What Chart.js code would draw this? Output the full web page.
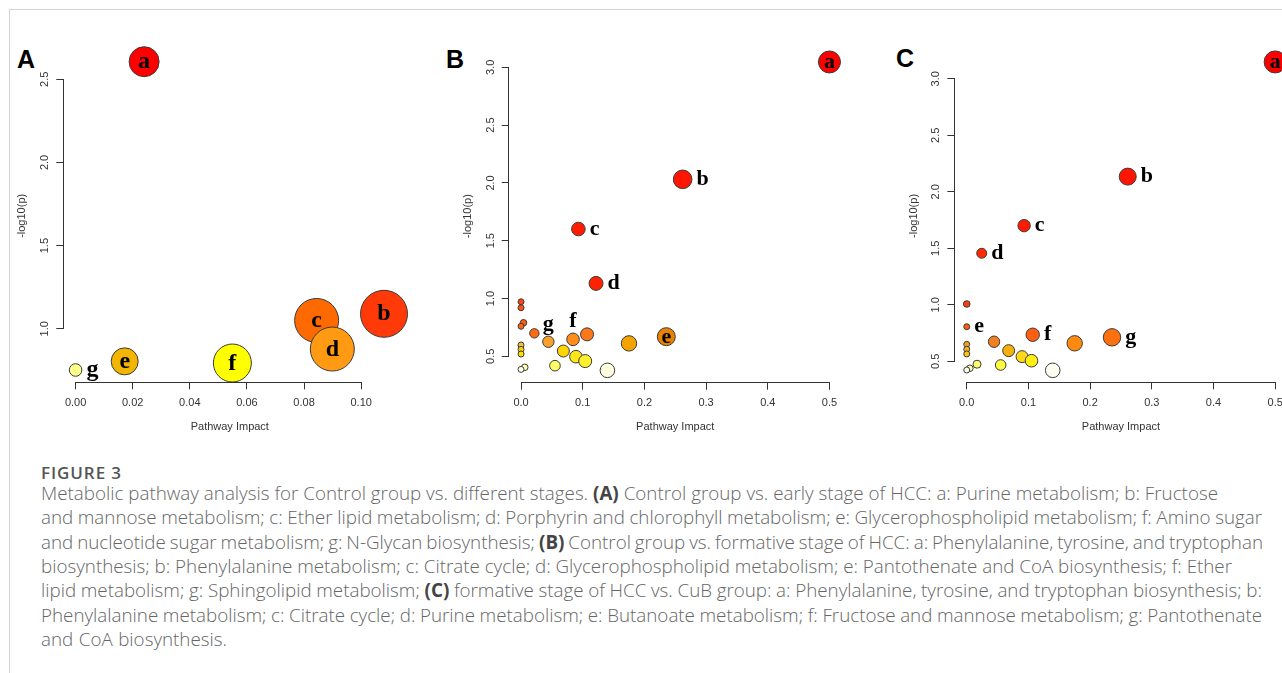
<!DOCTYPE html>
<html><head><meta charset="utf-8">
<script src="https://cdn.jsdelivr.net/npm/chart.js@4.4.0/dist/chart.umd.min.js"></script>
<style>
html,body{margin:0;padding:0;background:#fff;width:1282px;height:673px;overflow:hidden;position:relative}
.frame-top{position:absolute;left:9px;top:9px;width:1273px;height:1px;background:#d4d4d4}
.frame-left{position:absolute;left:9px;top:9px;width:1px;height:664px;background:#d4d4d4}
canvas{position:absolute;top:40px}
.plabel{position:absolute;font:bold 25px "Liberation Sans",Arial,sans-serif;line-height:25px;color:#000}
.cap{position:absolute;left:41px;white-space:nowrap;font-family:"Open Sans",sans-serif;font-weight:300;color:#666;line-height:24px}
.cap b{color:#444;font-weight:700}
#fig{font-weight:600;color:#555;font-size:17px;line-height:20px}
</style></head>
<body>
<div class="frame-top"></div><div class="frame-left"></div>
<div class="plabel" style="left:17px;top:47px">A</div>
<div class="plabel" style="left:446px;top:47px">B</div>
<div class="plabel" style="left:896px;top:46px">C</div>
<canvas id="cA" width="440" height="400" style="left:0px"></canvas>
<canvas id="cB" width="440" height="400" style="left:446px"></canvas>
<canvas id="cC" width="400" height="400" style="left:892px"></canvas>
<div class="cap" id="fig" style="top:463px">FIGURE 3</div>
<div id="capbox"></div>
<script>
// ---------- Panel A data ----------
const impactA = [0.024, 0.108, 0.0844, 0.0899, 0.0172, 0.0549, 0.0];
const logpA   = [2.606, 1.09, 1.05, 0.878, 0.804, 0.794, 0.752];
const sizeA   = [15, 23.5, 22, 22, 13.5, 19, 6.3];
const lettersA = ['a','b','c','d','e','f','g'];
const xTicksA = [0, 0.02, 0.04, 0.06, 0.08, 0.10];
const xTickLabelsA = ['0.00','0.02','0.04','0.06','0.08','0.10'];
const yTicksA = [1.0, 1.5, 2.0, 2.5];
const yTickLabelsA = ['1.0','1.5','2.0','2.5'];

// ---------- Panel B data ----------
const impactB = [0.5, 0.262, 0.093, 0.1216, 0.2355, 0.0843, 0.0443, 0.107, 0.0216, 0, 0, 0.004, 0, 0, 0, 0, 0.0686, 0.089, 0.104, 0.175, 0.055, 0.14, 0.006, 0];
const logpB   = [3.046, 2.031, 1.601, 1.131, 0.67, 0.647, 0.626, 0.69, 0.699, 0.972, 0.92, 0.79, 0.76, 0.598, 0.56, 0.52, 0.546, 0.497, 0.459, 0.612, 0.419, 0.379, 0.405, 0.387];
const sizeB   = [11, 9.3, 6.8, 7, 9, 6.3, 5.7, 6.5, 4.7, 3, 3, 3.3, 3, 3, 3, 3, 6, 6.3, 6.5, 7.7, 5.3, 7.3, 3.3, 3];
const lettersB = ['a','b','c','d','e','f','g'];

// ---------- Panel C data ----------
const impactC = [0.5, 0.261, 0.093, 0.0243, 0, 0, 0, 0, 0, 0.0443, 0.068, 0.0897, 0.105, 0.107, 0.175, 0.2355, 0.0167, 0.055, 0.1394, 0.005, 0];
const logpC   = [3.149, 2.134, 1.70, 1.456, 1.007, 0.806, 0.65, 0.606, 0.565, 0.673, 0.594, 0.541, 0.505, 0.735, 0.659, 0.712, 0.474, 0.467, 0.42, 0.438, 0.423];
const sizeC   = [11, 8.5, 6.2, 5, 3.3, 3, 3, 3, 3, 5.7, 6, 6, 6.3, 6.7, 7.7, 8.7, 4, 5.3, 7.3, 3.3, 3];
const lettersC = ['a','b','c','d','e','f','g'];

const xTicksBC = [0, 0.1, 0.2, 0.3, 0.4, 0.5];
const xTickLabelsBC = ['0.0','0.1','0.2','0.3','0.4','0.5'];
const yTicksBC = [0.5, 1.0, 1.5, 2.0, 2.5, 3.0];
const yTickLabelsBC = ['0.5','1.0','1.5','2.0','2.5','3.0'];

// ---------- styles ----------
const colorsA = ['#ff0000','#ff3a08','#ff6a00','#ff9a12','#f2b600','#ffff00','#ffff8c'];
const colorsB = ['#ff0000','#ff1500','#ff1a00','#ff2200','#e88200','#ff8c1c','#f6a12c','#ff7818','#ff6a12','#ff4410','#ff5010','#ff5a10','#ff6212','#f5c040','#ffd000','#ffe000','#ffd400','#ffe61a','#fff02e','#f5a300','#ffff66','#ffffe0','#ffffb0','#fffff0'];
const colorsC = ['#ff0000','#ff1500','#ff1a00','#ff2a00','#ff3c10','#ff5a10','#f0a020','#f5b020','#ffc010','#f08020','#f5b010','#ffd81a','#ffee10','#ff6010','#ff8a10','#ff7010','#ffff70','#ffff40','#fffff0','#ffffb0','#fffff0'];
// letter annotations: point index and placement (c = centred, r = right, t = above)
const letterIdxA = [0,1,2,3,4,5,6], letterPosA = ['c','c','c','c','c','c','r'];
const letterIdxB = [0,1,2,3,4,5,6], letterPosB = ['c','r','r','r','c','t','t'];
const letterIdxC = [0,1,2,3,5,13,15], letterPosC = ['c','r','r','r','r','r','r'];

const AXIS = '#333';
const FONT = '"Liberation Sans", Arial, sans-serif';

function alignPx(p){ return Math.round(p - 0.5) + 0.5; }

const axisLines = {
  id:'axisLines',
  afterDraw(chart, args, o){
    const {ctx, chartArea} = chart;
    const xs = chart.scales.x, ys = chart.scales.y;
    ctx.save();
    ctx.strokeStyle = AXIS; ctx.lineWidth = 1;
    ctx.beginPath();
    const yb = alignPx(chartArea.bottom);
    ctx.moveTo(alignPx(xs.getPixelForValue(o.xt[0])) - 0.5, yb);
    ctx.lineTo(alignPx(xs.getPixelForValue(o.xt[o.xt.length-1])) + 0.5, yb);
    const xl = alignPx(chartArea.left);
    ctx.moveTo(xl, alignPx(ys.getPixelForValue(o.yt[0])) + 0.5);
    ctx.lineTo(xl, alignPx(ys.getPixelForValue(o.yt[o.yt.length-1])) - 0.5);
    ctx.stroke();
    ctx.restore();
  }
};

const letterLabels = {
  id:'letterLabels',
  afterDatasetsDraw(chart, args, o){
    const ctx = chart.ctx;
    const meta = chart.getDatasetMeta(0);
    ctx.save();
    ctx.fillStyle = '#000';
    ctx.font = 'bold ' + o.size + 'px "Liberation Serif", "Times New Roman", serif';
    o.letters.forEach((t, k) => {
      const el = meta.data[o.idx[k]];
      const r = el.options.radius;
      const pos = o.pos[k];
      if (pos === 'c') { ctx.textAlign='center'; ctx.textBaseline='middle'; ctx.fillText(t, el.x, el.y + 0.5); }
      else if (pos === 'r') { ctx.textAlign='left'; ctx.textBaseline='middle'; ctx.fillText(t, el.x + r + 4.5, el.y); }
      else { ctx.textAlign='center'; ctx.textBaseline='alphabetic'; ctx.fillText(t, el.x, el.y - r - 6); }
    });
    ctx.restore();
  }
};

function makePanel(id, p){
  const data = p.x.map((v,i)=>({x:v, y:p.y[i], r:p.r[i]}));
  new Chart(document.getElementById(id), {
    type:'bubble',
    data:{datasets:[{data, backgroundColor:p.colors, borderColor:'#3a3a3a', borderWidth:1, clip:false}]},
    options:{
      responsive:false, animation:false, devicePixelRatio:1,
      events:[],
      layout:{autoPadding:false, padding:{left:0, top:p.padTop, right:p.padRight, bottom:0}},
      plugins:{legend:{display:false}, tooltip:{enabled:false},
        axisLines:{xt:p.xt, yt:p.yt},
        letterLabels:{letters:p.letters, idx:p.idx, pos:p.pos, size:p.fsize}},
      scales:{
        x:{type:'linear', position:'bottom', min:p.xr[0], max:p.xr[1],
          afterBuildTicks:s=>{ s.ticks = p.xt.map(v=>({value:v})); },
          afterFit:s=>{ s.height = p.xH; s.paddingLeft = 0; s.paddingRight = 0; },
          grid:{display:true, drawOnChartArea:false, drawTicks:true, tickLength:7, color:AXIS, lineWidth:1},
          border:{display:false},
          ticks:{padding:7, color:AXIS, autoSkip:false, maxRotation:0, minRotation:0, font:{family:FONT, size:11}, callback:(v,i)=>p.xl[i]},
          title:{display:true, text:'Pathway Impact', color:AXIS, font:{family:FONT, size:11}, padding:{top:0, bottom:6.9}}
        },
        y:{type:'linear', position:'left', min:p.yr[0], max:p.yr[1],
          afterBuildTicks:s=>{ s.ticks = p.yt.map(v=>({value:v})); },
          afterFit:s=>{ s.width = p.yW; s.paddingTop = 0; s.paddingBottom = 0; },
          grid:{display:true, drawOnChartArea:false, drawTicks:true, tickLength:7, color:AXIS, lineWidth:1},
          border:{display:false},
          ticks:{padding:3.4, crossAlign:'center', color:AXIS, autoSkip:false, minRotation:90, maxRotation:90, font:{family:FONT, size:11}, callback:(v,i)=>p.yl[i]},
          title:{display:true, text:'-log10(p)', color:AXIS, font:{family:FONT, size:11}, padding:{top:15.4, bottom:0}}
        }
      }
    },
    plugins:[axisLines, letterLabels]
  });
}

makePanel('cA', {x:impactA, y:logpA, r:sizeA, colors:colorsA,
  xr:[-0.0043, 0.1123], yr:[0.678, 2.68], xt:xTicksA, xl:xTickLabelsA, yt:yTicksA, yl:yTickLabelsA,
  padTop:9.4, padRight:43.7, yW:63.3, xH:57.7,
  letters:lettersA, idx:letterIdxA, pos:letterPosA, fsize:24});
makePanel('cB', {x:impactB, y:logpB, r:sizeB, colors:colorsB,
  xr:[-0.02, 0.52], yr:[0.272, 3.153], xt:xTicksBC, xl:xTickLabelsBC, yt:yTicksBC, yl:yTickLabelsBC,
  padTop:9.6, padRight:44.2, yW:62.7, xH:57.3,
  letters:lettersB, idx:letterIdxB, pos:letterPosB, fsize:22});
makePanel('cC', {x:impactC, y:logpC, r:sizeC, colors:colorsC,
  xr:[-0.02, 0.52], yr:[0.314, 3.258], xt:xTicksBC, xl:xTickLabelsBC, yt:yTicksBC, yl:yTickLabelsBC,
  padTop:9.6, padRight:4.5, yW:62.4, xH:57.7,
  letters:lettersC, idx:letterIdxC, pos:letterPosC, fsize:22});

// ---------- caption ----------
const captionLines = [
  'Metabolic pathway analysis for Control group vs. different stages. <b>(A)</b> Control group vs. early stage of HCC: a: Purine metabolism; b: Fructose',
  'and mannose metabolism; c: Ether lipid metabolism; d: Porphyrin and chlorophyll metabolism; e: Glycerophospholipid metabolism; f: Amino sugar',
  'and nucleotide sugar metabolism; g: N-Glycan biosynthesis; <b>(B)</b> Control group vs. formative stage of HCC: a: Phenylalanine, tyrosine, and tryptophan',
  'biosynthesis; b: Phenylalanine metabolism; c: Citrate cycle; d: Glycerophospholipid metabolism; e: Pantothenate and CoA biosynthesis; f: Ether',
  'lipid metabolism; g: Sphingolipid metabolism; <b>(C)</b> formative stage of HCC vs. CuB group: a: Phenylalanine, tyrosine, and tryptophan biosynthesis; b:',
  'Phenylalanine metabolism; c: Citrate cycle; d: Purine metabolism; e: Butanoate metabolism; f: Fructose and mannose metabolism; g: Pantothenate',
  'and CoA biosynthesis.'
];
const captionRight = [1218, 1262, 1263, 1232, 1262, 1262, 227];
const box = document.getElementById('capbox');
const divs = captionLines.map((html,i)=>{
  const d = document.createElement('div');
  d.className='cap'; d.innerHTML = html; d.style.fontSize='16px';
  d.style.top = (481 + i*24.3) + 'px';
  box.appendChild(d); return d;
});
const w1 = divs[0].getBoundingClientRect().width;
const fs = 16 * (captionRight[0] - 41) / w1;
divs.forEach((d,i)=>{
  d.style.fontSize = fs + 'px';
  const w = d.getBoundingClientRect().width;
  const spaces = (d.textContent.match(/ /g) || []).length;
  const target = captionRight[i] - 41;
  if (spaces) d.style.wordSpacing = ((target - w) / spaces) + 'px';
});
const fig = document.getElementById('fig');
const fw = fig.getBoundingClientRect().width;
fig.style.letterSpacing = ((81 - fw) / 8) + 'px';
</script>
</body></html>
